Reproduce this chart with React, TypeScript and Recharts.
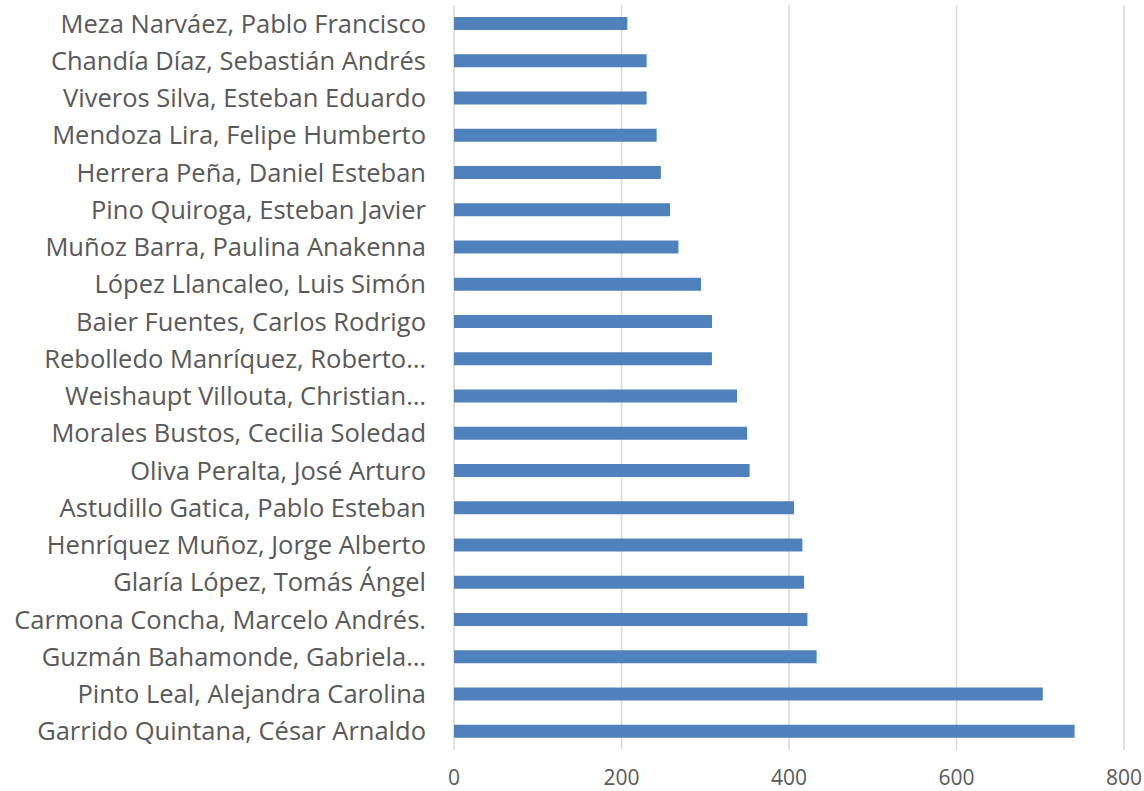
import { Bar, BarChart, CartesianGrid, XAxis, YAxis } from 'recharts'

const names = [
  'Meza Narváez, Pablo Francisco',
  'Chandía Díaz, Sebastián Andrés',
  'Viveros Silva, Esteban Eduardo',
  'Mendoza Lira, Felipe Humberto',
  'Herrera Peña, Daniel Esteban',
  'Pino Quiroga, Esteban Javier',
  'Muñoz Barra, Paulina Anakenna',
  'López Llancaleo, Luis Simón',
  'Baier Fuentes, Carlos Rodrigo',
  'Rebolledo Manríquez, Roberto…',
  'Weishaupt Villouta, Christian…',
  'Morales Bustos, Cecilia Soledad',
  'Oliva Peralta, José Arturo',
  'Astudillo Gatica, Pablo Esteban',
  'Henríquez Muñoz, Jorge Alberto',
  'Glaría López, Tomás Ángel',
  'Carmona Concha, Marcelo Andrés.',
  'Guzmán Bahamonde, Gabriela…',
  'Pinto Leal, Alejandra Carolina',
  'Garrido Quintana, César Arnaldo',
]

const values = [207, 230, 230, 242, 247, 258, 268, 295, 308, 308, 338, 350, 353, 406, 416, 418, 422, 433, 703, 741]

const xTicks = [0, 200, 400, 600, 800]

const data = names.map((name, i) => ({ name, value: values[i] }))

const font = '"Open Sans", sans-serif'

export default function App() {
  return (
    <div style={{ position: 'absolute', left: 0, top: 0, background: '#fff' }}>
      <BarChart
        width={1144}
        height={791}
        data={data}
        layout="vertical"
        margin={{ top: 5, right: 20, bottom: 0, left: 0 }}
      >
        <CartesianGrid horizontal={false} stroke="#d9d9d9" strokeWidth={1.5} />
        <XAxis
          type="number"
          domain={[0, 800]}
          ticks={xTicks}
          height={41}
          axisLine={false}
          tickLine={false}
          tickMargin={14}
          tick={{ fill: '#595959', fontSize: 21, fontFamily: font }}
        />
        <YAxis
          type="category"
          dataKey="name"
          width={454}
          axisLine={false}
          tickLine={false}
          tickMargin={22}
          interval={0}
          tick={{ fill: '#595959', fontSize: 25.5, fontFamily: font }}
        />
        <Bar dataKey="value" fill="#4f81bd" barSize={13} isAnimationActive={false} />
      </BarChart>
    </div>
  )
}
